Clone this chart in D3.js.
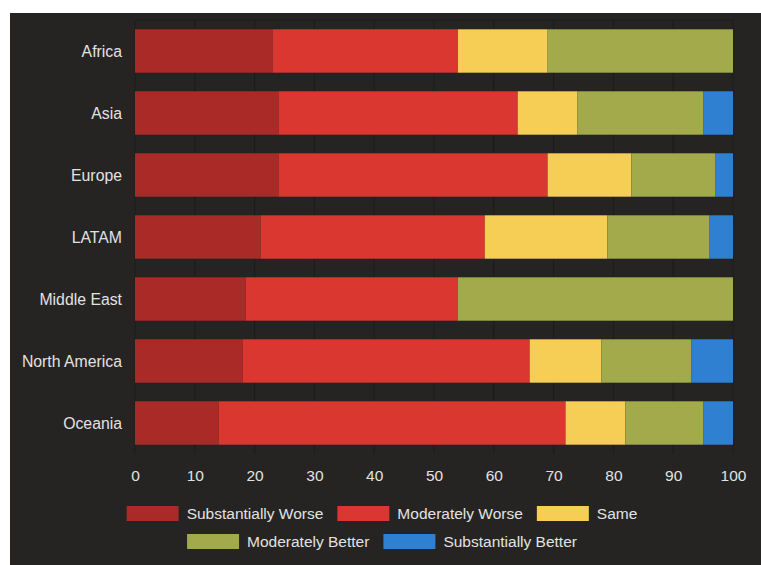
<!DOCTYPE html>
<html>
<head>
<meta charset="utf-8">
<script src="https://cdn.jsdelivr.net/npm/d3@7"></script>
<style>
  body { margin: 0; background: #fff; }
  svg { display: block; }
  text { font-family: "Liberation Sans", Arial, sans-serif; fill: #e2e2e2; }
</style>
</head>
<body>
<svg id="render" width="761" height="565"></svg>
<script>
const regions = ['Africa', 'Asia', 'Europe', 'LATAM', 'Middle East', 'North America', 'Oceania'];
const seriesNames = ['Substantially Worse', 'Moderately Worse', 'Same', 'Moderately Better', 'Substantially Better'];
const seriesColors = ['#a92a27', '#da3731', '#f6ce55', '#a2aa4b', '#3080d2'];

// percentages per region, one array per series
const substantiallyWorse = [23, 24, 24, 21, 18.5, 18, 14];
const moderatelyWorse    = [31, 40, 45, 37.5, 35.5, 48, 58];
const same               = [15, 10, 14, 20.5, 0, 12, 10];
const moderatelyBetter   = [31, 21, 14, 17, 46, 15, 13];
const substantiallyBetter = [0, 5, 3, 4, 0, 7, 5];

const xTicks = [0, 10, 20, 30, 40, 50, 60, 70, 80, 90, 100];

const rows = regions.map((r, i) => ({
    region: r,
    'Substantially Worse': substantiallyWorse[i],
    'Moderately Worse': moderatelyWorse[i],
    'Same': same[i],
    'Moderately Better': moderatelyBetter[i],
    'Substantially Better': substantiallyBetter[i]
}));

const svg = d3.select("svg#render");

// dark panel
svg.append("rect")
    .attr("x", 10).attr("y", 13)
    .attr("width", 751).attr("height", 552)
    .attr("fill", "#252422");

const plotLeft = 135, plotRight = 733, plotTop = 20, plotBottom = 454;

const x = d3.scaleLinear().domain([0, 100]).range([plotLeft, plotRight]);
const y = d3.scaleBand().domain(regions).range([plotTop, plotBottom])
    .paddingInner(0.3).paddingOuter(0.15);
const color = d3.scaleOrdinal().domain(seriesNames).range(seriesColors);

// faint grid
svg.append("g")
    .selectAll("line")
    .data(xTicks)
    .enter()
    .append("line")
    .attr("x1", d => x(d)).attr("x2", d => x(d))
    .attr("y1", plotTop).attr("y2", plotBottom)
    .attr("stroke", "#1d1c1b")
    .attr("stroke-width", 1);
svg.append("line")
    .attr("x1", plotLeft).attr("x2", plotRight)
    .attr("y1", plotTop).attr("y2", plotTop)
    .attr("stroke", "#1d1c1b");

const stacked = d3.stack().keys(seriesNames)(rows);

svg.append("g")
    .selectAll("g")
    .data(stacked)
    .enter()
    .append("g")
    .attr("fill", d => color(d.key))
    .selectAll("rect")
    .data(d => d)
    .enter()
    .append("rect")
    .attr("x", d => x(d[0]))
    .attr("y", d => y(d.data.region))
    .attr("width", d => x(d[1]) - x(d[0]))
    .attr("height", y.bandwidth());

// category labels
svg.append("g")
    .selectAll("text")
    .data(regions)
    .enter()
    .append("text")
    .attr("x", 122)
    .attr("y", d => y(d) + y.bandwidth() / 2)
    .attr("dy", "0.35em")
    .attr("text-anchor", "end")
    .style("font-size", "15.8px")
    .text(d => d);

// x axis
const xAxis = svg.append("g")
    .attr("transform", `translate(0,${plotBottom})`)
    .call(d3.axisBottom(x).tickValues(xTicks).tickSize(0).tickPadding(16));
xAxis.select(".domain").remove();
xAxis.selectAll("text")
    .style("font-size", "15.5px")
    .style("font-family", '"Liberation Sans", Arial, sans-serif')
    .attr("fill", "#e2e2e2");

// legend, two centred rows
const legendRows = [seriesNames.slice(0, 3), seriesNames.slice(3)];
const swW = 52, swH = 15, txtGap = 8, itemGap = 14;
const centre = 382;
legendRows.forEach((names, ri) => {
    const g = svg.append("g");
    const ly = 506 + ri * 28;
    let cx = 0;
    names.forEach(n => {
        g.append("rect")
            .attr("x", cx).attr("y", ly)
            .attr("width", swW).attr("height", swH)
            .attr("fill", color(n));
        const t = g.append("text")
            .attr("x", cx + swW + txtGap)
            .attr("y", ly + swH / 2)
            .attr("dy", "0.35em")
            .style("font-size", "15.5px")
            .text(n);
        cx += swW + txtGap + t.node().getComputedTextLength() + itemGap;
    });
    const w = cx - itemGap;
    g.attr("transform", `translate(${centre - w / 2},0)`);
});
</script>
</body>
</html>
